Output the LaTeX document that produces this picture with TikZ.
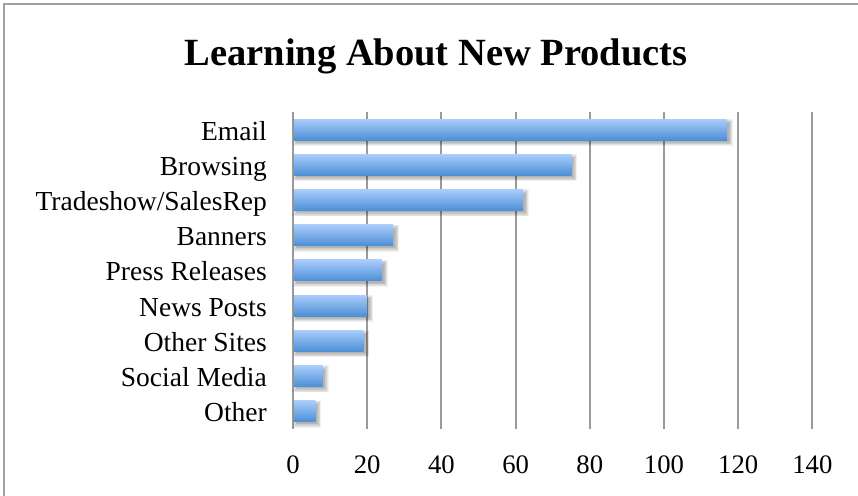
\documentclass[tikz,border=0pt]{standalone}
\usepackage{fontspec}
\setmainfont{Liberation Serif}
\definecolor{gridgray}{HTML}{9A9A9A}
\definecolor{framegray}{HTML}{A0A0A0}
\definecolor{bartop}{HTML}{AACDFB}
\definecolor{barbot}{HTML}{4D8FD7}
\newcommand{\chartbar}[2]{%
  % #1 = centre y, #2 = value
  \foreach \s in {0,1,2,3,4,5}{
    \fill[black,opacity=0.055] ({294+3-\s*0.8},{#1-10.5+4-\s*0.8}) rectangle ({293+#2*3.71+2+\s*0.8},{#1+10.5+2+\s*0.8});
  }
  \shade[barbox] (294,{#1-10.5}) rectangle ({293+#2*3.71},{#1+10.5});
}
\begin{document}
\begin{tikzpicture}[x=1pt,y=-1pt,
  gridline/.style={gridgray,line width=2pt},
  barbox/.style={top color=bartop,bottom color=barbot,draw=none},
  catlabel/.style={anchor=base east,font=\fontsize{27.5}{30}\selectfont,inner sep=0pt},
  ticklabel/.style={anchor=base,font=\fontsize{26.7}{30}\selectfont,inner sep=0pt},
  titlelabel/.style={anchor=base,font=\fontsize{38.5}{42}\selectfont\bfseries,inner sep=0pt}]
\useasboundingbox (0,0) rectangle (858,495);
\fill[white] (0,0) rectangle (858,495);
% frame
\draw[framegray,line width=1.5pt] (4,500) -- (4,4) -- (862,4);
% title
\node[titlelabel] (title) at (436,65.7) {Learning About New Products};
% grid lines and tick labels
\foreach \k/\t in {0/0,1/20,2/40,3/60,4/80,5/100,6/120,7/140}{
  \draw[gridline] ({293+74.2*\k},112) -- ({293+74.2*\k},429);
  \node[ticklabel] (tick\k) at ({293+74.2*\k},473) {\t};
}
% bars
\chartbar{129.5}{117}
\chartbar{164.7}{75}
\chartbar{199.9}{62}
\chartbar{235.1}{27}
\chartbar{270.3}{24}
\chartbar{305.5}{20}
\chartbar{340.7}{19}
\chartbar{375.9}{8}
\chartbar{411.1}{6}
% category labels
\node[catlabel] (c1) at (267,140.0) {Email};
\node[catlabel] (c2) at (267,175.2) {Browsing};
\node[catlabel] (c3) at (267,210.4) {Tradeshow/SalesRep};
\node[catlabel] (c4) at (267,245.6) {Banners};
\node[catlabel] (c5) at (267,280.8) {Press Releases};
\node[catlabel] (c6) at (267,316.0) {News Posts};
\node[catlabel] (c7) at (267,351.2) {Other Sites};
\node[catlabel] (c8) at (267,386.4) {Social Media};
\node[catlabel] (c9) at (267,421.6) {Other};
\end{tikzpicture}
\end{document}
